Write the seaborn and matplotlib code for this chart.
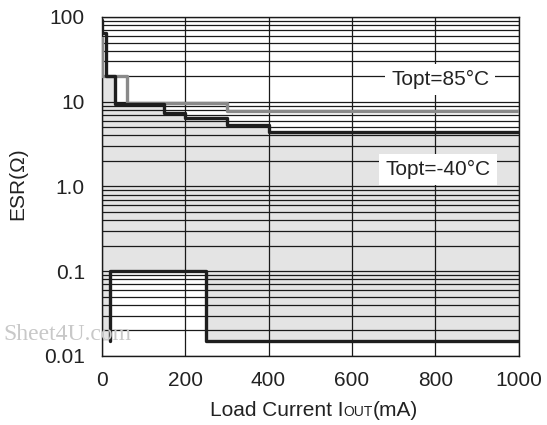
import numpy as np
import pandas as pd
import seaborn as sns
import matplotlib.pyplot as plt
from matplotlib.offsetbox import TextArea, HPacker, AnnotationBbox

# step curves (x = load current mA, y = ESR ohm)
hi_x = [0, 0, 10, 33, 150, 200, 300, 400, 1000]
hi_y = [92, 65, 20, 9.3, 7.4, 6.5, 5.3, 4.4, 4.4]

gray_x = [2, 2, 60, 300, 1000]
gray_y = [56, 20, 9.6, 7.8, 7.8]

lo_x = [20, 20, 250, 1000]
lo_y = [0.015, 0.1, 0.015, 0.015]

# stable region (shaded)
fill_x = [0, 20, 33, 150, 200, 250, 300, 400, 1000]
fill_top = [20, 20, 9.3, 7.4, 6.5, 6.5, 5.3, 4.4, 4.4]
fill_bot = [0.015, 0.1, 0.1, 0.1, 0.1, 0.015, 0.015, 0.015, 0.015]

x_ticks = [0, 200, 400, 600, 800, 1000]
y_ticks = [0.01, 0.1, 1, 10, 100]
y_labels = ["0.01", "0.1", "1.0", "10", "100"]

sns.set_style("white")
plt.rcParams['font.family'] = ['Liberation Sans', 'DejaVu Sans']

fig = plt.figure(figsize=(5.47, 4.25), dpi=100)
ax = fig.add_axes([0.1856, 0.1624, 0.7632, 0.7976])
ax.set_axisbelow(False)

ax.fill_between(fill_x, fill_bot, fill_top, step='post', color='#e4e4e4', lw=0, zorder=1)

hi = pd.DataFrame({'x': hi_x, 'y': hi_y})
gr = pd.DataFrame({'x': gray_x, 'y': gray_y})
lo = pd.DataFrame({'x': lo_x, 'y': lo_y})
sns.lineplot(data=gr, x='x', y='y', estimator=None, sort=False, drawstyle='steps-post',
             color='#8a8a8a', lw=2.4, ax=ax, zorder=3)
sns.lineplot(data=hi, x='x', y='y', estimator=None, sort=False, drawstyle='steps-post',
             color='#1e1e1e', lw=2.4, ax=ax, zorder=4)
sns.lineplot(data=lo, x='x', y='y', estimator=None, sort=False, drawstyle='steps-post',
             color='#1e1e1e', lw=2.4, ax=ax, zorder=4)

ax.set_yscale('log')
ax.set_xlim(0, 1000)
ax.set_ylim(0.01, 100)
ax.set_xticks(x_ticks)
ax.set_xticklabels([str(t) for t in x_ticks])
ax.set_yticks(y_ticks)
ax.set_yticklabels(y_labels)
ax.minorticks_on()
ax.xaxis.set_minor_locator(plt.NullLocator())
ax.yaxis.set_minor_formatter(plt.NullFormatter())
ax.tick_params(which='both', length=0, labelsize=15, colors='#222222')
ax.tick_params(axis='x', pad=11)
ax.tick_params(axis='y', pad=12)

ax.grid(which='both', axis='y', color='#1a1a1a', lw=0.9)
ax.grid(which='major', axis='x', color='#1a1a1a', lw=0.9)
for s in ax.spines.values():
    s.set_color('#1a1a1a')
    s.set_linewidth(1.0)

box = dict(boxstyle='square,pad=0.3', fc='white', ec='none')
ax.text(811, 18.2, "Topt=85°C", ha='center', va='center', fontsize=15,
        color='#222222', bbox=box, zorder=5)
ax.text(806, 1.58, "Topt=-40°C", ha='center', va='center', fontsize=15,
        color='#222222', bbox=box, zorder=5)

ax.set_xlabel("")
ax.set_ylabel("")
fig.text(18 / 547, 1 - 184 / 425, "ESR(Ω)", rotation=90, ha='center', va='center',
         fontsize=15, color='#222222')

# x label with small-caps "OUT"
tp = dict(fontsize=15, color='#222222')
parts = [TextArea("Load Current I", textprops=tp),
         TextArea("OUT", textprops=dict(fontsize=10, color='#222222')),
         TextArea("(mA)", textprops=tp)]
pack = HPacker(children=parts, align='baseline', pad=0, sep=0)
ab = AnnotationBbox(pack, (314 / 547, 1 - 411 / 425), xycoords='figure fraction',
                    frameon=False, box_alignment=(0.5, 0.5))
fig.add_artist(ab)

# watermark
fig.text(3 / 547, 1 - 335 / 425, "Sheet4U.com", ha='left', va='center',
         fontsize=17, family='Liberation Serif', color='#c8c8c8')

fig.savefig("out.png", dpi=100)
